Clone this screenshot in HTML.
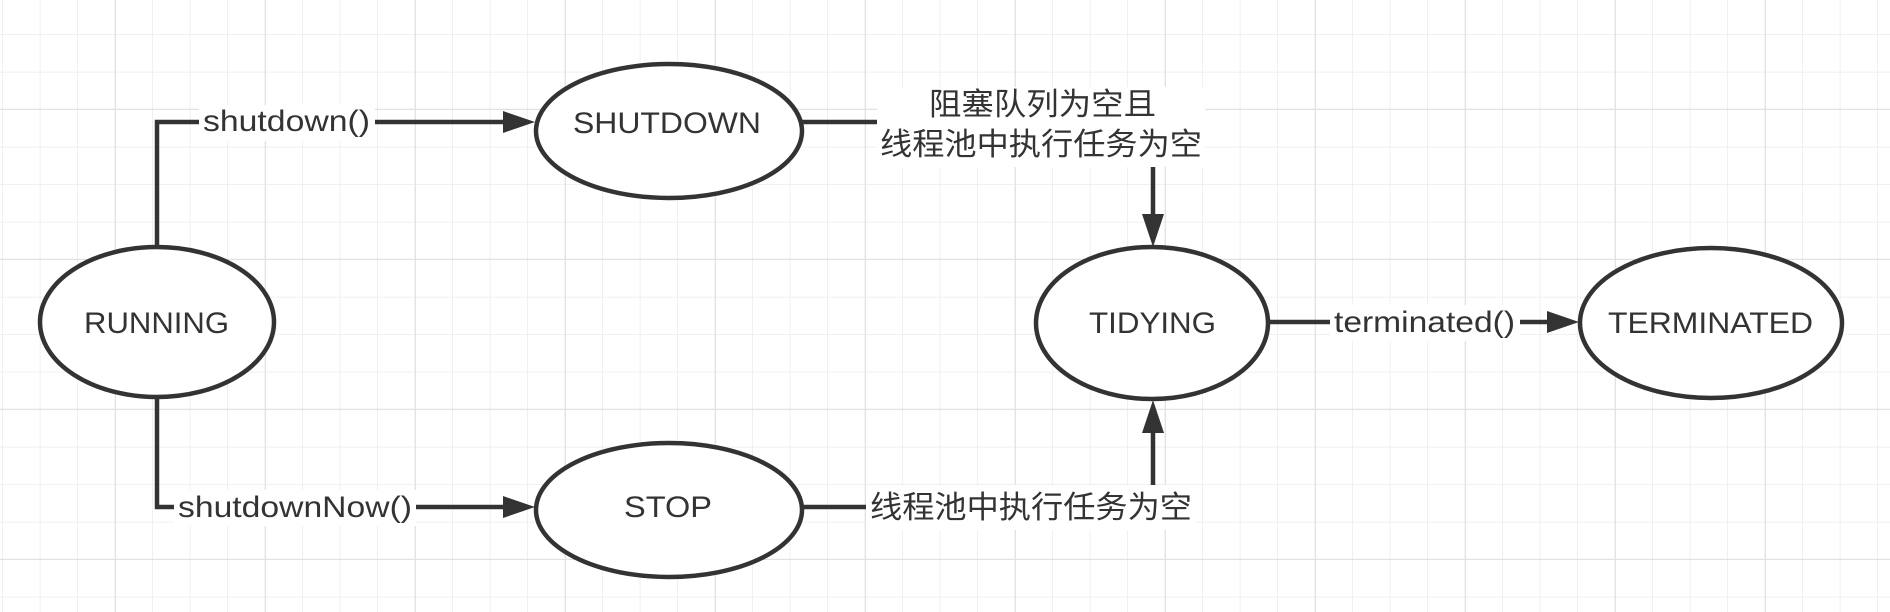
<!DOCTYPE html>
<html><head><meta charset="utf-8"><style>html,body{margin:0;padding:0;background:#fff}svg{display:block}</style></head>
<body>
<svg width="1890" height="612" xmlns="http://www.w3.org/2000/svg">
<defs>
<pattern id="g" width="37.5" height="37.5" patternUnits="userSpaceOnUse" x="3" y="-2.5">
<path d="M37.5 0V37.5M0 37.5H37.5" stroke="#ebebeb" stroke-width="1.5" fill="none"/>
</pattern>
<pattern id="G" width="150" height="150" patternUnits="userSpaceOnUse" x="-34" y="-40">
<path d="M150 0V150M0 150H150" stroke="#e2e2e2" stroke-width="2.5" fill="none"/>
</pattern>
</defs>
<rect width="1890" height="612" fill="#fff"/>
<rect width="1890" height="612" fill="url(#g)"/>
<rect width="1890" height="612" fill="url(#G)"/>
<g stroke="#333" stroke-width="4.5" fill="none">
<polyline points="157,248 157,122 503,122"/>
<polyline points="157,397 157,507 503,507"/>
<line x1="801" y1="122" x2="880" y2="122"/>
<line x1="801" y1="507" x2="870" y2="507"/>
<line x1="1153" y1="167" x2="1153" y2="215"/>
<line x1="1153" y1="485" x2="1153" y2="432"/>
<line x1="1268" y1="322" x2="1548" y2="322"/>
</g>
<g fill="#333">
<polygon points="503,111 535,122 503,133"/>
<polygon points="503,496 535,507 503,518"/>
<polygon points="1142,214 1153,247 1164,214"/>
<polygon points="1142,433 1153,400 1164,433"/>
<polygon points="1547,311 1579,322 1547,333"/>
</g>
<g fill="#fff">
<rect x="199" y="105" width="176" height="36"/>
<rect x="174" y="490" width="242" height="36"/>
<rect x="877" y="87" width="328" height="80"/>
<rect x="866" y="485" width="330" height="45"/>
<rect x="1330" y="305" width="190" height="36"/>
</g>
<g fill="#fff" stroke="#333" stroke-width="4.5">
<ellipse cx="157" cy="322" rx="117" ry="75"/>
<ellipse cx="669" cy="131" rx="133" ry="67"/>
<ellipse cx="669" cy="510" rx="133" ry="67"/>
<ellipse cx="1152" cy="323" rx="116" ry="76"/>
<ellipse cx="1711" cy="323" rx="131" ry="75"/>
</g>
<g font-family="Liberation Sans, sans-serif" font-size="30" fill="#333">
<text x="84" y="333" textLength="145" lengthAdjust="spacingAndGlyphs">RUNNING</text>
<text x="573" y="133" textLength="188" lengthAdjust="spacingAndGlyphs">SHUTDOWN</text>
<text x="624" y="517" textLength="88" lengthAdjust="spacingAndGlyphs">STOP</text>
<text x="1089" y="333" textLength="127" lengthAdjust="spacingAndGlyphs">TIDYING</text>
<text x="1608" y="333" textLength="205" lengthAdjust="spacingAndGlyphs">TERMINATED</text>
<text x="203" y="131" textLength="167" lengthAdjust="spacingAndGlyphs">shutdown()</text>
<text x="178" y="517" textLength="234" lengthAdjust="spacingAndGlyphs">shutdownNow()</text>
<text x="1334" y="332" textLength="181" lengthAdjust="spacingAndGlyphs">terminated()</text>
</g>
<g font-family="Liberation Sans, Noto Sans CJK SC, sans-serif" font-size="31" fill="#333">
<text x="929" y="115" textLength="227" lengthAdjust="spacingAndGlyphs">阻塞队列为空且</text>
<text x="880" y="155" textLength="322" lengthAdjust="spacingAndGlyphs">线程池中执行任务为空</text>
<text x="870" y="518" textLength="322" lengthAdjust="spacingAndGlyphs">线程池中执行任务为空</text>
</g>
</svg>
</body></html>
